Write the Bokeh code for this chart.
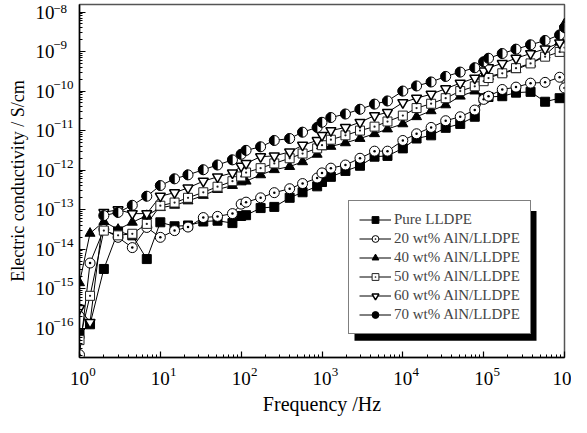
import math
from bokeh.plotting import figure
from bokeh.models import (ColumnDataSource, Legend, LegendItem, FixedTicker,
                          CustomJSTickFormatter, BoxAnnotation, Range1d, LogAxis, LogScale)
from bokeh.embed import file_html
from bokeh.resources import INLINE

nan = float("nan")

# ---------------- data ----------------
freq = [1, 1.35, 2.0, 3.0, 4.5, 6.8, 10, 15, 22, 34, 51, 78, 100, 115, 174, 257,
        398, 575, 871, 1000, 1288, 1950, 2951, 4467, 6457, 10000, 14791, 22387,
        33884, 51286, 77625, 100000, 114815, 169824, 251189, 380189, 575440,
        870964, 1000000]

# log10 of electric conductivity (S/cm)
pure_log = [-16.15, -15.9, -14.5, -13.55, -13.65, -14.25, -13.32, -13.42, -13.4, -13.3,
            -13.28, -13.34, -13.16, -13.14, -12.96, -12.93, -12.70, -12.56, -12.41, -12.3,
            -12.17, -12.02, -11.89, -11.66, -11.64, -11.45, -11.2, -11.12, -10.93, -10.83,
            -10.65, -10.18, -10.15, -10.13, -10.04, -10.02, -10.27, -10.18, nan]
aln20_log = [-16.67, -14.35, -13.5, -13.7, -13.96, -13.45, -13.7, -13.53, -13.44, -13.2,
             -13.17, -13.1, -12.86, -12.81, -12.70, -12.57, -12.47, -12.34, -12.20, -12.07,
             -11.95, -11.87, -11.70, -11.52, -11.52, -11.25, -11.08, -10.92, -10.75, -10.65,
             -10.48, -10.21, -10.13, -9.96, -9.90, -9.80, -9.78, -9.65, -9.92]
aln40_log = [-14.85, -13.6, -13.3, -13.5, -13.32, -13.15, -12.95, -12.89, -12.78, -12.64,
             -12.49, -12.39, -12.3, -12.28, -12.12, -11.99, -11.91, -11.79, -11.6, -11.41,
             -11.40, -11.31, -11.2, -11.08, -10.96, -10.83, -10.65, -10.5, -10.35, -10.13,
             -10.0, -9.63, -9.63, -9.55, -9.46, -9.3, -9.09, -8.76, -8.3]
aln50_log = [-16.3, -15.18, -13.53, -13.65, -13.61, -13.36, -12.9, -12.82, -12.7, -12.56,
             -12.42, -12.28, -12.16, -12.06, -11.95, -11.83, -11.70, -11.58, -11.45, -11.37,
             -11.23, -11.12, -11.0, -10.9, -10.77, -10.62, -10.43, -10.32, -10.18, -10.0,
             -9.88, -9.75, -9.67, -9.55, -9.42, -9.30, -9.13, -9.01, -8.9]
aln60_log = [-15.5, -15.85, -13.07, -13.0, -13.1, -13.1, -12.66, -12.57, -12.45, -12.28,
             -12.17, -12.07, -11.9, -11.83, -11.66, -11.64, -11.54, -11.37, -11.25, -11.12,
             -11.0, -10.92, -10.79, -10.62, -10.54, -10.29, -10.18, -10.08, -9.94, -9.80,
             -9.67, -9.49, -9.41, -9.30, -9.17, -9.05, -8.93, -8.78, -8.6]
aln70_log = [nan, nan, -13.15, -13.07, -12.89, -12.66, -12.39, -12.22, -12.12, -11.99,
             -11.87, -11.74, -11.6, -11.5, -11.41, -11.25, -11.2, -11.04, -10.92, -10.79,
             -10.67, -10.58, -10.46, -10.33, -10.25, -10.0, -9.87, -9.77, -9.63, -9.52,
             -9.41, -9.26, -9.17, -9.05, -8.94, -8.83, -8.72, -8.58, -8.39]

labels = ["Pure LLDPE", "20 wt% AlN/LLDPE", "40 wt% AlN/LLDPE",
          "50 wt% AlN/LLDPE", "60 wt% AlN/LLDPE", "70 wt% AlN/LLDPE"]

# tick labels: 10 raised to these exponents
x_exps = [0, 1, 2, 3, 4, 5, 6]
y_exps = [-16, -15, -14, -13, -12, -11, -10, -9, -8]

# ---------------- layout ----------------
W, H = 571, 417
BL, BR, BT, BB = 79, 7, 4, 54
FW, FH = W - BL - BR, H - BT - BB
XLOG0, XLOG1 = 0.0, 6.0
YLOG0, YLOG1 = -16.74, -7.81
SUP_DX = 13   # px, exponent shift right of tick (x axis)
SUP_DY = 7    # px, exponent shift above tick (y axis)
dx = SUP_DX / FW * (XLOG1 - XLOG0)
dy = SUP_DY / FH * (YLOG1 - YLOG0)

FONT = "Liberation Serif"

p = figure(width=W, height=H, x_axis_type="log", y_axis_type="log",
           x_range=Range1d(10 ** XLOG0, 10 ** XLOG1),
           y_range=Range1d(10 ** YLOG0, 10 ** YLOG1),
           output_backend="svg", toolbar_location=None,
           min_border_left=BL, min_border_right=BR,
           min_border_top=BT, min_border_bottom=BB)
p.grid.visible = False
p.outline_line_color = "#555555"
p.outline_line_width = 1.5
p.background_fill_color = "white"
p.border_fill_color = "white"

p.extra_x_ranges = {"xsup": Range1d(10 ** (XLOG0 - dx), 10 ** (XLOG1 - dx))}
p.extra_x_scales = {"xsup": LogScale()}
p.extra_y_ranges = {"ysup": Range1d(10 ** (YLOG0 - dy), 10 ** (YLOG1 - dy))}
p.extra_y_scales = {"ysup": LogScale()}

base_fmt = CustomJSTickFormatter(code="return '10';")
exp_fmt_x = CustomJSTickFormatter(code="return String(Math.round(Math.log10(tick)));")
exp_fmt_y = CustomJSTickFormatter(code="""
const e = Math.round(Math.log10(tick));
let s = (e < 0 ? '\\u2212' : '') + String(Math.abs(e));
if (s.length < 3) { s = s + '\\u2007'; }
return s;
""")

p.xaxis.ticker = FixedTicker(
    ticks=[10.0 ** k for k in x_exps],
    minor_ticks=[m * 10.0 ** k for k in x_exps[:-1] for m in range(2, 10)])
p.yaxis.ticker = FixedTicker(
    ticks=[10.0 ** k for k in y_exps],
    minor_ticks=[m * 10.0 ** k for k in range(-17, -7) for m in range(2, 10)])

for ax in (p.xaxis[0], p.yaxis[0]):
    ax.formatter = base_fmt
    ax.axis_line_color = "black"
    ax.axis_line_width = 1.5
    ax.major_tick_in = 6
    ax.major_tick_out = 0
    ax.minor_tick_in = 3
    ax.minor_tick_out = 0
    ax.major_tick_line_color = "black"
    ax.minor_tick_line_color = "black"
    ax.major_tick_line_width = 1.2
    ax.minor_tick_line_width = 1
    ax.major_label_text_font = FONT
    ax.major_label_text_font_size = "19px"
    ax.major_label_text_color = "black"
p.xaxis.major_label_standoff = 14
p.yaxis.major_label_standoff = 25

xsup = LogAxis(x_range_name="xsup",
               ticker=FixedTicker(ticks=[10.0 ** k for k in x_exps], minor_ticks=[]),
               formatter=exp_fmt_x)
ysup = LogAxis(y_range_name="ysup",
               ticker=FixedTicker(ticks=[10.0 ** k for k in y_exps], minor_ticks=[]),
               formatter=exp_fmt_y)
for ax in (xsup, ysup):
    ax.axis_line_color = None
    ax.major_tick_line_color = None
    ax.minor_tick_line_color = None
    ax.major_tick_in = 0
    ax.major_tick_out = 0
    ax.minor_tick_in = 0
    ax.minor_tick_out = 0
    ax.major_label_text_font = FONT
    ax.major_label_text_font_size = "13px"
    ax.major_label_text_color = "black"
    ax.axis_label_text_font = FONT
    ax.axis_label_text_font_style = "normal"
    ax.axis_label_text_color = "black"
xsup.major_label_standoff = -20
ysup.major_label_standoff = -41
xsup.axis_label = "Frequency /Hz"
ysup.axis_label = "Electric conductivity / S/cm"
xsup.axis_label_text_font_size = "20px"
ysup.axis_label_text_font_size = "18px"
xsup.axis_label_standoff = 14
ysup.axis_label_standoff = 22
p.add_layout(xsup, "below")
p.add_layout(ysup, "left")

# ---------------- series ----------------
all_logs = [pure_log, aln20_log, aln40_log, aln50_log, aln60_log, aln70_log]
sources = []
for logs in all_logs:
    ys = [10 ** v if v == v else nan for v in logs]
    sources.append(ColumnDataSource(dict(x=freq, y=ys)))

line_rs = [p.line("x", "y", source=s, line_color="black", line_width=1) for s in sources]

mk = []
mk.append(p.scatter("x", "y", source=sources[0], marker="square", size=9,
                    fill_color="black", line_color="black"))
mk.append(p.scatter("x", "y", source=sources[1], marker="circle_dot", size=10,
                    fill_color="white", line_color="black", line_width=1))
mk.append(p.scatter("x", "y", source=sources[2], marker="triangle", size=10,
                    fill_color="black", line_color="black"))
mk.append(p.scatter("x", "y", source=sources[3], marker="square_dot", size=9,
                    fill_color="white", line_color="#222222", line_width=1))
mk.append(p.scatter("x", "y", source=sources[4], marker="inverted_triangle", size=10,
                    fill_color="white", line_color="black", line_width=1.5))
p.scatter("x", "y", source=sources[5], marker="circle", size=10,
          fill_color="white", line_color="black", line_width=1)
p.wedge("x", "y", source=sources[5], radius=5, radius_units="screen",
        start_angle=math.pi / 2, end_angle=3 * math.pi / 2,
        fill_color="black", line_color="black", line_width=0.5)
proxy70 = p.scatter(x=[nan], y=[nan], marker="circle", size=8,
                    fill_color="black", line_color="black")
mk.append(proxy70)

items = [LegendItem(label=labels[i], renderers=[line_rs[i], mk[i]]) for i in range(6)]

LEG_X, LEG_Y, LEG_W, LEG_H = 269, 23, 182, 132
legend = Legend(items=items, location=(LEG_X, LEG_Y))
legend.background_fill_color = "white"
legend.background_fill_alpha = 1
legend.border_line_color = "black"
legend.border_line_width = 1
legend.label_text_font = FONT
legend.label_text_font_size = "15px"
legend.padding = 10
legend.margin = 0
legend.spacing = 2
legend.glyph_width = 32
legend.glyph_height = 17
legend.label_height = 17
legend.label_standoff = 3
p.add_layout(legend)


def px2x(px):
    return 10 ** (XLOG0 + px / FW * (XLOG1 - XLOG0))


def py2y(py):
    return 10 ** (YLOG0 + py / FH * (YLOG1 - YLOG0))


SH = 6
shadow = BoxAnnotation(left=px2x(LEG_X + SH), right=px2x(LEG_X + LEG_W + SH),
                       bottom=py2y(LEG_Y - SH), top=py2y(LEG_Y + LEG_H - SH),
                       fill_color="black", fill_alpha=1, line_alpha=0, level="underlay")
p.add_layout(shadow)

open("out.html", "w", encoding="utf-8").write(file_html(p, INLINE))
